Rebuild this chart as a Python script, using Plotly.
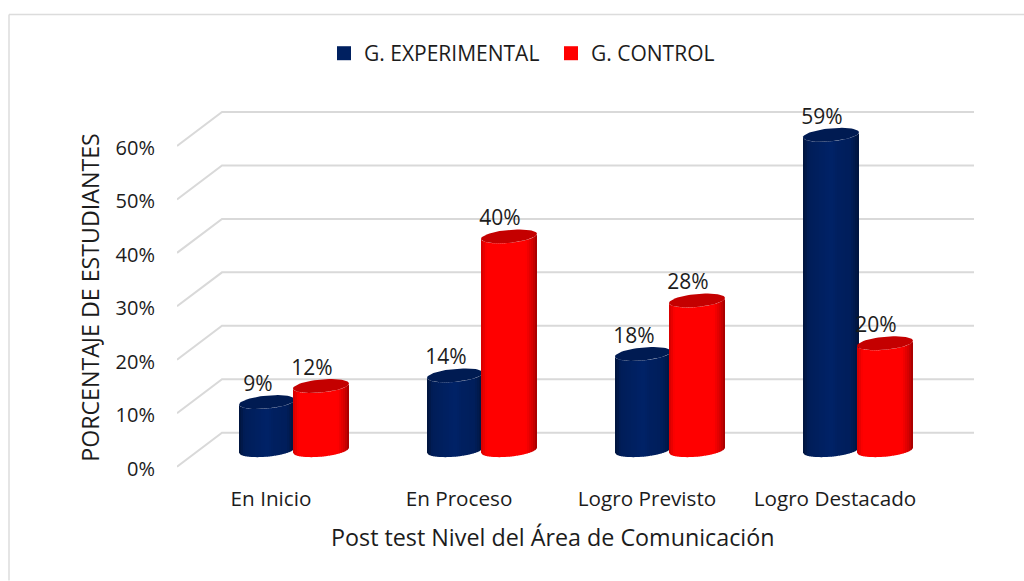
import numpy as np
import plotly.graph_objects as go

categories = ["En Inicio", "En Proceso", "Logro Previsto", "Logro Destacado"]
experimental = [9, 14, 18, 59]
control = [12, 40, 28, 20]
y_ticks = [0, 10, 20, 30, 40, 50, 60]

FONT = "Open Sans"
TEXT = "#1c1c1c"
W, H = 1024, 581
PX_X = 188.0           # pixels per category
PX_Y = 5.35            # pixels per percentage point
L, R, T, B = 177, 49, 100, 114 - PX_Y   # y = -1 sits on the bottom edge, y = 0 at pixel 467
DEPTH_X, DEPTH_Y = 45 / PX_X, 34 / PX_Y
BAR_X, BAR_Y = 23 / PX_X, 16.5 / PX_Y
A, E, SK = 28.0, 6.5, 2.5  # cylinder half width, cap half height, cap tilt (px)
OFF = 27 / PX_X
TICK_NUDGE = 2 / PX_Y

BLUE = (0, 32, 96)
RED = (255, 0, 0)
STYLE = {
    "blue": dict(base=BLUE, stops=[0, .10, .5, .62, .85, 1], k=[.62, .92, 1.08, 1.0, .95, .62], cap="#001b52"),
    "red": dict(base=RED, stops=[0, .10, .5, .80, .93, 1], k=[.82, 1, 1, 1, .82, .62], cap="#c40000"),
}


def shade(style, t):
    k = float(np.interp(t, style["stops"], style["k"]))
    return "rgb(%d,%d,%d)" % tuple(min(255, int(c * k)) for c in style["base"])


def arc(xpx, top_val):
    c = np.clip(xpx / A, -1, 1)
    return top_val + (-E * np.sqrt(1 - c ** 2) + SK * c) / PX_Y


fig = go.Figure()

# walls: gridlines with their perspective return
for v in y_ticks:
    fig.add_trace(go.Scatter(
        x=[-0.5, -0.5 + DEPTH_X, 3.5 + DEPTH_X], y=[v, v + DEPTH_Y, v + DEPTH_Y],
        mode="lines", line=dict(color="#d9d9d9", width=2), hoverinfo="skip",
        showlegend=False))


def cylinder(xc, value, style):
    base = BAR_Y
    top = value + BAR_Y
    n = 28
    edges = np.linspace(-A, A, n + 1)
    for i in range(n):
        px = np.clip(np.linspace(edges[i], edges[i + 1] + 0.4, 4), -A, A)
        lo = arc(px, base)
        hi = arc(px, top)
        col = shade(style, (i + .5) / n)
        fig.add_trace(go.Scatter(
            x=np.r_[px, px[::-1]] / PX_X + xc, y=np.r_[lo, hi[::-1]],
            mode="lines", fill="toself", fillcolor=col,
            line=dict(width=0, color=col), hoverinfo="skip", showlegend=False))
    th = np.linspace(0, 2 * np.pi, 60)
    fig.add_trace(go.Scatter(
        x=xc + A * np.cos(th) / PX_X,
        y=top + (E * np.sin(th) + SK * np.cos(th)) / PX_Y,
        mode="lines", fill="toself", fillcolor=style["cap"],
        line=dict(width=0, color=style["cap"]), hoverinfo="skip", showlegend=False))


for i, (a, b) in enumerate(zip(experimental, control)):
    cylinder(i + BAR_X - OFF, a, STYLE["blue"])
    cylinder(i + BAR_X + OFF, b, STYLE["red"])

# data labels
for vals, sign in ((experimental, -1), (control, 1)):
    fig.add_trace(go.Scatter(
        x=[i + BAR_X + sign * OFF - 9 / PX_X for i in range(4)],
        y=[v + BAR_Y + 16.5 / PX_Y for v in vals],
        text=[f"{v}%" for v in vals], mode="text", textposition="middle center",
        textfont=dict(family=FONT, size=21, color=TEXT), hoverinfo="skip",
        showlegend=False, cliponaxis=False))

# legend entries
fig.add_trace(go.Scatter(x=[None], y=[None], mode="markers", name="G. EXPERIMENTAL",
                         marker=dict(symbol="square", size=14, color="rgb(0,32,96)")))
fig.add_trace(go.Scatter(x=[None], y=[None], mode="markers", name="G. CONTROL",
                         marker=dict(symbol="square", size=14, color="rgb(255,0,0)")))

px_paper_x = lambda p: (p - L) / (W - L - R)
px_paper_y = lambda p: (H - B - p) / (H - T - B)
frame = dict(type="line", xref="paper", yref="paper", line=dict(color="#dcdcdc", width=1.5))

fig.update_layout(
    width=W, height=H, autosize=False,
    margin=dict(l=L, r=R, t=T, b=B, pad=0),
    paper_bgcolor="white", plot_bgcolor="white",
    font=dict(family=FONT, size=21, color=TEXT),
    hovermode=False,
    shapes=[
        dict(frame, x0=px_paper_x(9), x1=px_paper_x(9), y0=px_paper_y(14.5), y1=px_paper_y(581)),
        dict(frame, x0=px_paper_x(9), x1=px_paper_x(1024), y0=px_paper_y(14.5), y1=px_paper_y(14.5)),
    ],
    annotations=[
        dict(text="Post test Nivel del Área de Comunicación", xref="paper", yref="paper",
             x=px_paper_x(553), y=px_paper_y(537), xanchor="center", yanchor="middle", showarrow=False,
             font=dict(family=FONT, size=23.3, color=TEXT)),
        dict(text="PORCENTAJE DE ESTUDIANTES", xref="paper", yref="paper", textangle=-90,
             x=px_paper_x(90), y=px_paper_y(298), xanchor="center", yanchor="middle", showarrow=False,
             font=dict(family=FONT, size=23.2, color=TEXT)),
    ],
    legend=dict(orientation="h", x=px_paper_x(324), y=px_paper_y(33), xanchor="left", yanchor="top",
                font=dict(family=FONT, size=21, color=TEXT), bgcolor="rgba(0,0,0,0)",
                itemsizing="trace", tracegroupgap=0, entrywidth=182),
    xaxis=dict(range=[-0.5, (W - R - L) / PX_X - 0.5], tickmode="array", tickvals=list(range(4)),
               ticktext=categories, showgrid=False, zeroline=False, showline=False, ticks="",
               ticklabelstandoff=12, tickfont=dict(family=FONT, size=20.7, color=TEXT), automargin=False),
    yaxis=dict(range=[-1, (H - B - T) / PX_Y - 1], tickmode="array",
               tickvals=[v - TICK_NUDGE for v in y_ticks],
               ticktext=[f"{v}%" for v in y_ticks],
               showgrid=False, zeroline=False, showline=False, ticks="", ticklabelstandoff=21,
               tickfont=dict(family=FONT, size=20, color=TEXT), automargin=False),
)

fig.write_html("out.html", config=dict(displayModeBar=False),
               post_script="document.body.style.margin='0';document.body.style.overflow='hidden';")
